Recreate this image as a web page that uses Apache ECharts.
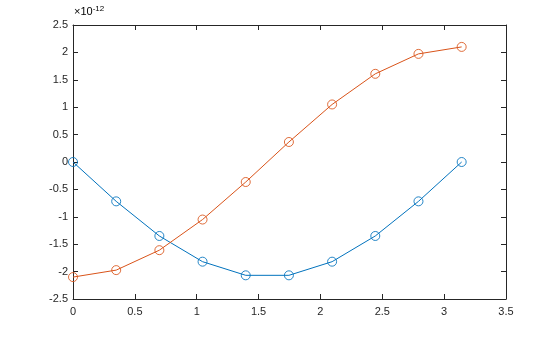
<!DOCTYPE html>
<html><head><meta charset="utf-8">
<script src="https://cdn.jsdelivr.net/npm/echarts@6/dist/echarts.min.js"></script>
<style>html,body{margin:0;padding:0;background:#fff}#c{width:560px;height:337px}</style>
</head><body><div id="c"></div>
<script>
// x values (radians), y values in units of 1e-12
const xVals = [0, 0.3491, 0.6981, 1.0472, 1.3963, 1.7453, 2.0944, 2.4435, 2.7925, 3.1416];
const blueVals = [0, -0.718, -1.350, -1.819, -2.068, -2.068, -1.819, -1.350, -0.718, 0];
const orangeVals = [-2.1, -1.973, -1.609, -1.05, -0.365, 0.365, 1.05, 1.609, 1.973, 2.1];
const xTicks = [0, 0.5, 1, 1.5, 2, 2.5, 3, 3.5];
const yTicks = [-2.5, -2, -1.5, -1, -0.5, 0, 0.5, 1, 1.5, 2, 2.5];
const exponentLabel = '-12';

const axisColor = '#262626';
const font = 'Liberation Sans, Arial, Helvetica, sans-serif';
const chart = echarts.init(document.getElementById('c'), null, {renderer: 'canvas'});
const lab = {color: axisColor, fontSize: 11, fontFamily: font};
function baseAxis(extra) {
  return Object.assign({
    type: 'value',
    axisLine: {show: true, onZero: false, lineStyle: {color: axisColor, width: 1}},
    axisTick: {show: true, inside: true, length: 5, lineStyle: {color: axisColor}},
    splitLine: {show: false}
  }, extra);
}
function lineSeries(vals, color) {
  return {type: 'line', data: xVals.map((x, i) => [x, vals[i]]),
    symbol: 'circle', symbolSize: 9, showAllSymbol: true,
    itemStyle: {color: 'rgba(255,255,255,0)', borderColor: color, borderWidth: 1, opacity: 0.85},
    lineStyle: {color: color, width: 1}};
}
chart.setOption({
  animation: false,
  grid: {left: 73, right: 54, top: 25, bottom: 38},
  xAxis: [
    baseAxis({min: 0, max: 3.5, interval: 0.5, position: 'bottom',
      axisLabel: Object.assign({margin: 7, formatter: v => String(+v.toFixed(2))}, lab)}),
    baseAxis({min: 0, max: 3.5, interval: 0.5, position: 'top', axisLabel: {show: false}})
  ],
  yAxis: [
    baseAxis({min: -2.5, max: 2.5, interval: 0.5, position: 'left',
      axisLabel: Object.assign({margin: 5, formatter: v => String(+v.toFixed(2))}, lab)}),
    baseAxis({min: -2.5, max: 2.5, interval: 0.5, position: 'right', axisLabel: {show: false}})
  ],
  graphic: [{
    type: 'text', left: 74, top: 5,
    style: {
      text: '{a|×10}{b|' + exponentLabel + '}',
      rich: {
        a: {fontSize: 11, fontFamily: font, color: axisColor},
        b: {fontSize: 8, fontFamily: font, color: axisColor, verticalAlign: 'top', padding: [0, 0, 6, 0]}
      }
    }
  }],
  series: [lineSeries(blueVals, '#0072BD'), lineSeries(orangeVals, '#D95319')]
});
</script></body></html>
